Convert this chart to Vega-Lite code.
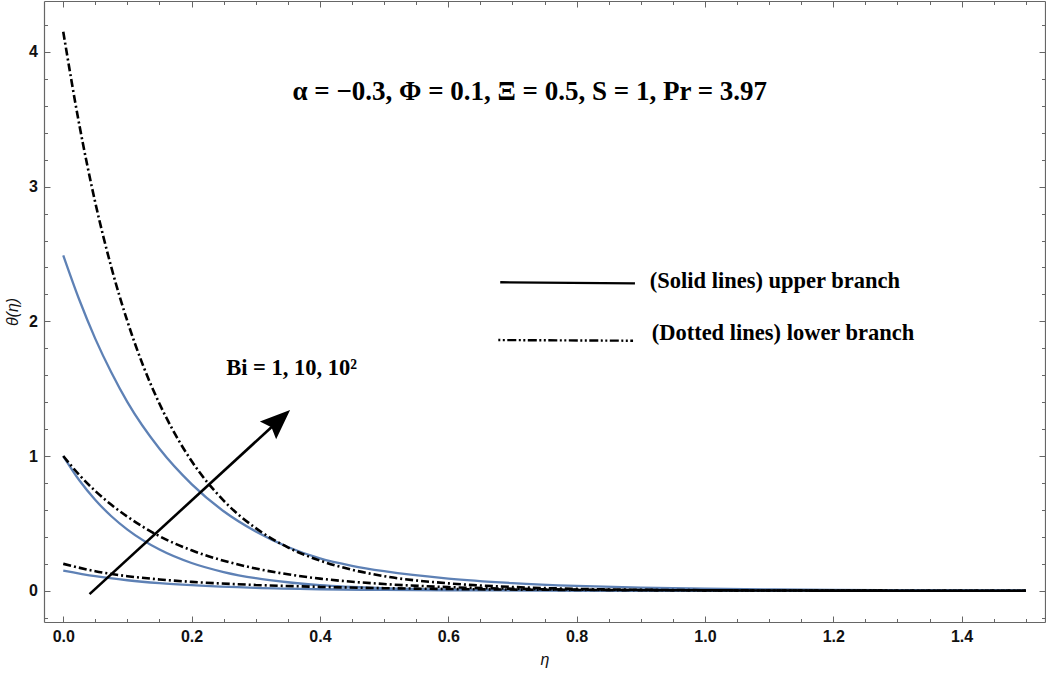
{
  "$schema": "https://vega.github.io/schema/vega-lite/v6.json",
  "width": 1001,
  "height": 621,
  "autosize": "none",
  "padding": {"left": 44, "top": 1, "right": 1, "bottom": 63},
  "background": "white",
  "config": {
    "view": {"stroke": null},
    "axis": {
      "grid": false,
      "domainColor": "#666666",
      "domainWidth": 1.2,
      "tickColor": "#666666",
      "tickWidth": 1,
      "labelFont": "Liberation Sans",
      "labelFontWeight": "bold",
      "labelFontSize": 16,
      "labelColor": "#111111",
      "titleColor": "#111111"
    }
  },
  "datasets": {
    "curves": [
      {"branch": "upper", "Bi": "100", "eta": 0, "theta": 2.49},
      {"branch": "upper", "Bi": "100", "eta": 0.025, "theta": 2.16},
      {"branch": "upper", "Bi": "100", "eta": 0.05, "theta": 1.87},
      {"branch": "upper", "Bi": "100", "eta": 0.075, "theta": 1.62},
      {"branch": "upper", "Bi": "100", "eta": 0.1, "theta": 1.40},
      {"branch": "upper", "Bi": "100", "eta": 0.15, "theta": 1.054},
      {"branch": "upper", "Bi": "100", "eta": 0.2, "theta": 0.792},
      {"branch": "upper", "Bi": "100", "eta": 0.25, "theta": 0.59},
      {"branch": "upper", "Bi": "100", "eta": 0.3, "theta": 0.44},
      {"branch": "upper", "Bi": "100", "eta": 0.35, "theta": 0.325},
      {"branch": "upper", "Bi": "100", "eta": 0.4, "theta": 0.24},
      {"branch": "upper", "Bi": "100", "eta": 0.45, "theta": 0.185},
      {"branch": "upper", "Bi": "100", "eta": 0.5, "theta": 0.145},
      {"branch": "upper", "Bi": "100", "eta": 0.6, "theta": 0.09},
      {"branch": "upper", "Bi": "100", "eta": 0.7, "theta": 0.057},
      {"branch": "upper", "Bi": "100", "eta": 0.8, "theta": 0.036},
      {"branch": "upper", "Bi": "100", "eta": 0.9, "theta": 0.023},
      {"branch": "upper", "Bi": "100", "eta": 1.0, "theta": 0.015},
      {"branch": "upper", "Bi": "100", "eta": 1.1, "theta": 0.01},
      {"branch": "upper", "Bi": "100", "eta": 1.2, "theta": 0.006},
      {"branch": "upper", "Bi": "100", "eta": 1.3, "theta": 0.004},
      {"branch": "upper", "Bi": "100", "eta": 1.4, "theta": 0.002},
      {"branch": "upper", "Bi": "100", "eta": 1.5, "theta": 0.001},

      {"branch": "upper", "Bi": "10", "eta": 0, "theta": 1.0},
      {"branch": "upper", "Bi": "10", "eta": 0.025, "theta": 0.82},
      {"branch": "upper", "Bi": "10", "eta": 0.05, "theta": 0.674},
      {"branch": "upper", "Bi": "10", "eta": 0.075, "theta": 0.553},
      {"branch": "upper", "Bi": "10", "eta": 0.1, "theta": 0.454},
      {"branch": "upper", "Bi": "10", "eta": 0.15, "theta": 0.306},
      {"branch": "upper", "Bi": "10", "eta": 0.2, "theta": 0.206},
      {"branch": "upper", "Bi": "10", "eta": 0.25, "theta": 0.139},
      {"branch": "upper", "Bi": "10", "eta": 0.3, "theta": 0.093},
      {"branch": "upper", "Bi": "10", "eta": 0.35, "theta": 0.063},
      {"branch": "upper", "Bi": "10", "eta": 0.4, "theta": 0.042},
      {"branch": "upper", "Bi": "10", "eta": 0.5, "theta": 0.02},
      {"branch": "upper", "Bi": "10", "eta": 0.6, "theta": 0.009},
      {"branch": "upper", "Bi": "10", "eta": 0.7, "theta": 0.005},
      {"branch": "upper", "Bi": "10", "eta": 0.8, "theta": 0.002},
      {"branch": "upper", "Bi": "10", "eta": 1.0, "theta": 0.001},
      {"branch": "upper", "Bi": "10", "eta": 1.2, "theta": 0},
      {"branch": "upper", "Bi": "10", "eta": 1.5, "theta": 0},

      {"branch": "upper", "Bi": "1", "eta": 0, "theta": 0.15},
      {"branch": "upper", "Bi": "1", "eta": 0.05, "theta": 0.108},
      {"branch": "upper", "Bi": "1", "eta": 0.1, "theta": 0.078},
      {"branch": "upper", "Bi": "1", "eta": 0.15, "theta": 0.0565},
      {"branch": "upper", "Bi": "1", "eta": 0.2, "theta": 0.041},
      {"branch": "upper", "Bi": "1", "eta": 0.3, "theta": 0.021},
      {"branch": "upper", "Bi": "1", "eta": 0.4, "theta": 0.011},
      {"branch": "upper", "Bi": "1", "eta": 0.5, "theta": 0.006},
      {"branch": "upper", "Bi": "1", "eta": 0.6, "theta": 0.003},
      {"branch": "upper", "Bi": "1", "eta": 0.8, "theta": 0.001},
      {"branch": "upper", "Bi": "1", "eta": 1.0, "theta": 0},
      {"branch": "upper", "Bi": "1", "eta": 1.5, "theta": 0},

      {"branch": "lower", "Bi": "100", "eta": 0, "theta": 4.15},
      {"branch": "lower", "Bi": "100", "eta": 0.025, "theta": 3.46},
      {"branch": "lower", "Bi": "100", "eta": 0.05, "theta": 2.88},
      {"branch": "lower", "Bi": "100", "eta": 0.075, "theta": 2.40},
      {"branch": "lower", "Bi": "100", "eta": 0.1, "theta": 2.00},
      {"branch": "lower", "Bi": "100", "eta": 0.125, "theta": 1.665},
      {"branch": "lower", "Bi": "100", "eta": 0.15, "theta": 1.388},
      {"branch": "lower", "Bi": "100", "eta": 0.175, "theta": 1.157},
      {"branch": "lower", "Bi": "100", "eta": 0.2, "theta": 0.963},
      {"branch": "lower", "Bi": "100", "eta": 0.25, "theta": 0.669},
      {"branch": "lower", "Bi": "100", "eta": 0.3, "theta": 0.465},
      {"branch": "lower", "Bi": "100", "eta": 0.35, "theta": 0.322},
      {"branch": "lower", "Bi": "100", "eta": 0.4, "theta": 0.224},
      {"branch": "lower", "Bi": "100", "eta": 0.45, "theta": 0.156},
      {"branch": "lower", "Bi": "100", "eta": 0.5, "theta": 0.108},
      {"branch": "lower", "Bi": "100", "eta": 0.6, "theta": 0.055},
      {"branch": "lower", "Bi": "100", "eta": 0.7, "theta": 0.028},
      {"branch": "lower", "Bi": "100", "eta": 0.8, "theta": 0.014},
      {"branch": "lower", "Bi": "100", "eta": 0.9, "theta": 0.007},
      {"branch": "lower", "Bi": "100", "eta": 1.0, "theta": 0.004},
      {"branch": "lower", "Bi": "100", "eta": 1.2, "theta": 0.001},
      {"branch": "lower", "Bi": "100", "eta": 1.5, "theta": 0},

      {"branch": "lower", "Bi": "10", "eta": 0, "theta": 1.0},
      {"branch": "lower", "Bi": "10", "eta": 0.025, "theta": 0.86},
      {"branch": "lower", "Bi": "10", "eta": 0.05, "theta": 0.74},
      {"branch": "lower", "Bi": "10", "eta": 0.075, "theta": 0.638},
      {"branch": "lower", "Bi": "10", "eta": 0.1, "theta": 0.55},
      {"branch": "lower", "Bi": "10", "eta": 0.15, "theta": 0.405},
      {"branch": "lower", "Bi": "10", "eta": 0.2, "theta": 0.30},
      {"branch": "lower", "Bi": "10", "eta": 0.25, "theta": 0.223},
      {"branch": "lower", "Bi": "10", "eta": 0.3, "theta": 0.165},
      {"branch": "lower", "Bi": "10", "eta": 0.35, "theta": 0.122},
      {"branch": "lower", "Bi": "10", "eta": 0.4, "theta": 0.09},
      {"branch": "lower", "Bi": "10", "eta": 0.5, "theta": 0.05},
      {"branch": "lower", "Bi": "10", "eta": 0.6, "theta": 0.027},
      {"branch": "lower", "Bi": "10", "eta": 0.7, "theta": 0.015},
      {"branch": "lower", "Bi": "10", "eta": 0.8, "theta": 0.008},
      {"branch": "lower", "Bi": "10", "eta": 0.9, "theta": 0.005},
      {"branch": "lower", "Bi": "10", "eta": 1.0, "theta": 0.003},
      {"branch": "lower", "Bi": "10", "eta": 1.2, "theta": 0.001},
      {"branch": "lower", "Bi": "10", "eta": 1.5, "theta": 0},

      {"branch": "lower", "Bi": "1", "eta": 0, "theta": 0.2},
      {"branch": "lower", "Bi": "1", "eta": 0.05, "theta": 0.145},
      {"branch": "lower", "Bi": "1", "eta": 0.1, "theta": 0.108},
      {"branch": "lower", "Bi": "1", "eta": 0.15, "theta": 0.084},
      {"branch": "lower", "Bi": "1", "eta": 0.2, "theta": 0.066},
      {"branch": "lower", "Bi": "1", "eta": 0.3, "theta": 0.043},
      {"branch": "lower", "Bi": "1", "eta": 0.4, "theta": 0.029},
      {"branch": "lower", "Bi": "1", "eta": 0.5, "theta": 0.019},
      {"branch": "lower", "Bi": "1", "eta": 0.6, "theta": 0.013},
      {"branch": "lower", "Bi": "1", "eta": 0.8, "theta": 0.006},
      {"branch": "lower", "Bi": "1", "eta": 1.0, "theta": 0.003},
      {"branch": "lower", "Bi": "1", "eta": 1.2, "theta": 0.001},
      {"branch": "lower", "Bi": "1", "eta": 1.5, "theta": 0}
    ],
    "arrow": [
      {"eta": 0.041, "theta": -0.025},
      {"eta": 0.332, "theta": 1.247}
    ],
    "arrowhead": [
      {"eta": 0.332, "theta": 1.247}
    ],
    "keys": [
      {"key": "solid", "eta": 0.681, "theta": 2.29},
      {"key": "solid", "eta": 0.891, "theta": 2.282},
      {"key": "dotted", "eta": 0.678, "theta": 1.861},
      {"key": "dotted", "eta": 0.888, "theta": 1.856}
    ],
    "notes": [
      {"kind": "params", "eta": 0.727, "theta": 3.70, "label": "α = −0.3, Φ = 0.1, Ξ = 0.5, S = 1, Pr = 3.97"},
      {"kind": "side", "eta": 0.914, "theta": 2.30, "label": "(Solid lines) upper branch"},
      {"kind": "side", "eta": 0.917, "theta": 1.913, "label": "(Dotted lines) lower branch"},
      {"kind": "side", "eta": 0.254, "theta": 1.653, "label": "Bi = 1, 10, 10²"}
    ]
  },
  "layer": [
    {
      "data": {"name": "curves"},
      "transform": [{"filter": "datum.branch === 'upper'"}],
      "mark": {"type": "line", "color": "#5E81B5", "strokeWidth": 2.3, "interpolate": "monotone"},
      "encoding": {
        "x": {"field": "eta", "type": "quantitative", "scale": {"domain": [-0.03, 1.53], "nice": false, "zero": false},
          "axis": {"orient": "bottom", "values": [0, 0.2, 0.4, 0.6, 0.8, 1.0, 1.2, 1.4], "format": ".1f", "tickSize": -6, "labelPadding": 12,
            "labelFont": "Liberation Sans", "labelFontWeight": "bold", "labelFontSize": 16,
            "title": "η", "titleFont": "Liberation Sans", "titleFontStyle": "italic", "titleFontWeight": "normal", "titleFontSize": 16, "titlePadding": 7}},
        "y": {"field": "theta", "type": "quantitative", "scale": {"domain": [-0.232, 4.378], "nice": false, "zero": false},
          "axis": {"orient": "left", "values": [0, 1, 2, 3, 4], "format": "d", "tickSize": -6, "labelPadding": 12.5,
            "labelFont": "Liberation Sans", "labelFontWeight": "bold", "labelFontSize": 16,
            "title": "θ(η)", "titleFont": "Liberation Sans", "titleFontStyle": "italic", "titleFontWeight": "normal", "titleFontSize": 16, "titlePadding": 8}},
        "detail": {"field": "Bi"}
      }
    },
    {
      "data": {"name": "curves"},
      "transform": [{"filter": "datum.branch === 'lower'"}],
      "mark": {"type": "line", "color": "#000000", "strokeWidth": 2.6, "strokeDash": [8, 3, 2, 3], "interpolate": "monotone"},
      "encoding": {
        "x": {"field": "eta", "type": "quantitative",
          "axis": {"orient": "bottom", "values": [0.05, 0.1, 0.15, 0.25, 0.3, 0.35, 0.45, 0.5, 0.55, 0.65, 0.7, 0.75, 0.85, 0.9, 0.95, 1.05, 1.1, 1.15, 1.25, 1.3, 1.35, 1.45, 1.5], "labels": false, "domain": false, "tickSize": -3.5, "title": null}},
        "y": {"field": "theta", "type": "quantitative",
          "axis": {"orient": "left", "values": [-0.2, 0.2, 0.4, 0.6, 0.8, 1.2, 1.4, 1.6, 1.8, 2.2, 2.4, 2.6, 2.8, 3.2, 3.4, 3.6, 3.8, 4.2], "labels": false, "domain": false, "tickSize": -3.5, "title": null}},
        "detail": {"field": "Bi"}
      }
    },
    {
      "data": {"name": "arrow"},
      "mark": {"type": "line", "color": "#000000", "strokeWidth": 2.6},
      "encoding": {
        "x": {"field": "eta", "type": "quantitative",
          "axis": {"orient": "top", "values": [0, 0.2, 0.4, 0.6, 0.8, 1.0, 1.2, 1.4], "labels": false, "tickSize": -6, "title": null}},
        "y": {"field": "theta", "type": "quantitative",
          "axis": {"orient": "right", "values": [0, 1, 2, 3, 4], "labels": false, "tickSize": -6, "title": null}}
      }
    },
    {
      "data": {"name": "arrowhead"},
      "mark": {"type": "point", "filled": true, "color": "#000000", "opacity": 1, "strokeWidth": 0, "size": 1406, "angle": 47.4, "shape": "M0,-1L0.64,0.6L0,0.35L-0.64,0.6Z"},
      "encoding": {
        "x": {"field": "eta", "type": "quantitative",
          "axis": {"orient": "top", "values": [0.05, 0.1, 0.15, 0.25, 0.3, 0.35, 0.45, 0.5, 0.55, 0.65, 0.7, 0.75, 0.85, 0.9, 0.95, 1.05, 1.1, 1.15, 1.25, 1.3, 1.35, 1.45, 1.5], "labels": false, "domain": false, "tickSize": -3.5, "title": null}},
        "y": {"field": "theta", "type": "quantitative",
          "axis": {"orient": "right", "values": [-0.2, 0.2, 0.4, 0.6, 0.8, 1.2, 1.4, 1.6, 1.8, 2.2, 2.4, 2.6, 2.8, 3.2, 3.4, 3.6, 3.8, 4.2], "labels": false, "domain": false, "tickSize": -3.5, "title": null}}
      }
    },
    {
      "data": {"name": "keys"},
      "transform": [{"filter": "datum.key === 'solid'"}],
      "mark": {"type": "line", "color": "#000000", "strokeWidth": 2.4},
      "encoding": {
        "x": {"field": "eta", "type": "quantitative", "axis": null},
        "y": {"field": "theta", "type": "quantitative", "axis": null}
      }
    },
    {
      "data": {"name": "keys"},
      "transform": [{"filter": "datum.key === 'dotted'"}],
      "mark": {"type": "line", "color": "#000000", "strokeWidth": 2.4, "strokeDash": [2, 2.5, 2, 2.5, 9, 2.5]},
      "encoding": {
        "x": {"field": "eta", "type": "quantitative", "axis": null},
        "y": {"field": "theta", "type": "quantitative", "axis": null}
      }
    },
    {
      "data": {"name": "notes"},
      "transform": [{"filter": "datum.kind === 'params'"}],
      "mark": {"type": "text", "font": "Liberation Serif", "fontWeight": "bold", "fontSize": 27, "align": "center", "baseline": "middle", "color": "#000000"},
      "encoding": {
        "x": {"field": "eta", "type": "quantitative", "axis": null},
        "y": {"field": "theta", "type": "quantitative", "axis": null},
        "text": {"field": "label"}
      }
    },
    {
      "data": {"name": "notes"},
      "transform": [{"filter": "datum.kind === 'side'"}],
      "mark": {"type": "text", "font": "Liberation Serif", "fontWeight": "bold", "fontSize": 22.5, "align": "left", "baseline": "middle", "color": "#000000"},
      "encoding": {
        "x": {"field": "eta", "type": "quantitative", "axis": null},
        "y": {"field": "theta", "type": "quantitative", "axis": null},
        "text": {"field": "label"}
      }
    }
  ],
  "resolve": {"axis": {"x": "independent", "y": "independent"}}
}
